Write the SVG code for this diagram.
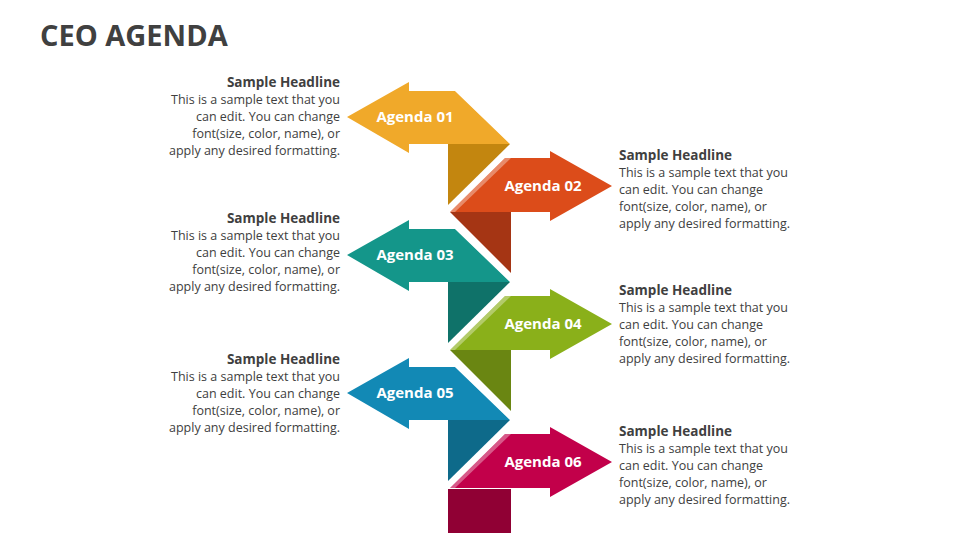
<svg xmlns="http://www.w3.org/2000/svg" width="960" height="540" viewBox="0 0 960 540">
<style>
.t{font-family:"Open Sans","Liberation Sans",sans-serif;fill:#404040;font-size:12.5px}
.h{font-weight:bold;font-size:13.5px}
.l{text-anchor:end}
.a{font-family:"Open Sans","Liberation Sans",sans-serif;font-weight:bold;font-size:15px;fill:#fff;text-anchor:middle}
.hl{fill:#fff;opacity:0.35}
</style>
<defs>
<g id="L"><path d="M0,0 L62,-35 L62,-26 L108,-26 L163,27 L62,27 L62,36 Z"/></g>
<g id="R"><path d="M0,26 L55,-28 L100,-28 L100,-35 L162,0 L100,35 L100,26 Z"/></g>
</defs>
<rect width="960" height="540" fill="#fff"/>
<text x="40" y="46" font-family="'Open Sans','Liberation Sans',sans-serif" font-weight="bold" font-size="29" fill="#404040">CEO AGENDA</text>
<g id="connectors">
<path d="M448,144 L510,144 L448,205 Z" fill="#C3860F"/>
<path d="M450,212 L511,212 L511,273 Z" fill="#A53514"/>
<path d="M448,282 L510,282 L448,343 Z" fill="#0F7269"/>
<path d="M450,350 L511,350 L511,411 Z" fill="#6A8612"/>
<path d="M448,420 L510,420 L448,481 Z" fill="#0E6A8A"/>
<rect x="448" y="489" width="63" height="44" fill="#900034"/>
</g>
<g id="n1"><use href="#L" x="347" y="117" fill="#F0A92A"/><path d="M455,91 L461,91 L514,144 L510,144 Z" class="hl"/><text class="a" x="415" y="122">Agenda 01</text></g>
<g id="n2"><use href="#R" x="450" y="186" fill="#DC4C1A"/><path d="M450,212 L505,158 L511,158 L455,212 Z" class="hl"/><text class="a" x="543" y="191">Agenda 02</text></g>
<g id="n3"><use href="#L" x="347" y="255" fill="#14968A"/><path d="M455,229 L461,229 L514,282 L510,282 Z" class="hl"/><text class="a" x="415" y="260">Agenda 03</text></g>
<g id="n4"><use href="#R" x="450" y="324" fill="#8AB01A"/><path d="M450,350 L505,296 L511,296 L455,350 Z" class="hl"/><text class="a" x="543" y="329">Agenda 04</text></g>
<g id="n5"><use href="#L" x="347" y="393" fill="#1289B5"/><path d="M455,367 L461,367 L514,420 L510,420 Z" class="hl"/><text class="a" x="415" y="398">Agenda 05</text></g>
<g id="n6"><use href="#R" x="450" y="462" fill="#C2004A"/><path d="M450,488 L505,434 L511,434 L455,488 Z" class="hl"/><text class="a" x="543" y="467">Agenda 06</text></g>
<g id="txt1" class="t l"><text x="340" y="87" class="t l h">Sample Headline</text><text x="340" y="104">This is a sample text that you</text><text x="340" y="121">can edit. You can change</text><text x="340" y="138">font(size, color, name), or</text><text x="340" y="155">apply any desired formatting.</text></g>
<g id="txt3" class="t l"><text x="340" y="223" class="t l h">Sample Headline</text><text x="340" y="240">This is a sample text that you</text><text x="340" y="257">can edit. You can change</text><text x="340" y="274">font(size, color, name), or</text><text x="340" y="291">apply any desired formatting.</text></g>
<g id="txt5" class="t l"><text x="340" y="364" class="t l h">Sample Headline</text><text x="340" y="381">This is a sample text that you</text><text x="340" y="398">can edit. You can change</text><text x="340" y="415">font(size, color, name), or</text><text x="340" y="432">apply any desired formatting.</text></g>
<g id="txt2" class="t"><text x="619" y="160" class="t h">Sample Headline</text><text x="619" y="177">This is a sample text that you</text><text x="619" y="194">can edit. You can change</text><text x="619" y="211">font(size, color, name), or</text><text x="619" y="228">apply any desired formatting.</text></g>
<g id="txt4" class="t"><text x="619" y="295" class="t h">Sample Headline</text><text x="619" y="312">This is a sample text that you</text><text x="619" y="329">can edit. You can change</text><text x="619" y="346">font(size, color, name), or</text><text x="619" y="363">apply any desired formatting.</text></g>
<g id="txt6" class="t"><text x="619" y="436" class="t h">Sample Headline</text><text x="619" y="453">This is a sample text that you</text><text x="619" y="470">can edit. You can change</text><text x="619" y="487">font(size, color, name), or</text><text x="619" y="504">apply any desired formatting.</text></g>
</svg>
